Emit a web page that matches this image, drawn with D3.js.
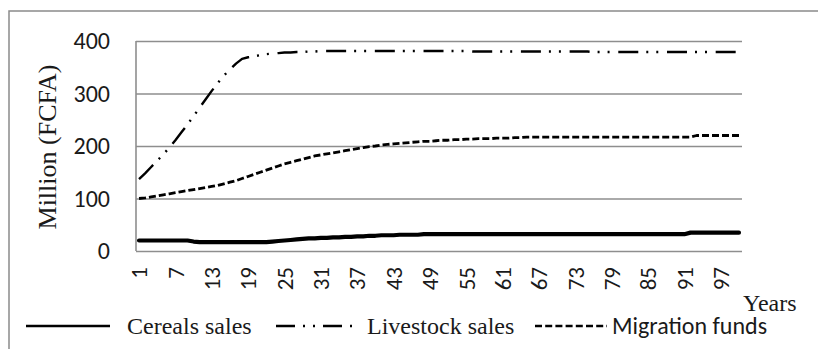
<!DOCTYPE html>
<html>
<head>
<meta charset="utf-8">
<script src="https://cdn.jsdelivr.net/npm/d3@7"></script>
<style>
  html, body { margin: 0; padding: 0; background: #fff; }
  svg { display: block; }
</style>
</head>
<body>
<svg id="chart" width="818" height="349"></svg>
<script>
// Simulation horizon (years) and the three revenue series, in million FCFA
const years = d3.range(1, 101);
const xTickLabels = [1, 7, 13, 19, 25, 31, 37, 43, 49, 55, 61, 67, 73, 79, 85, 91, 97];
const yTickLabels = [0, 100, 200, 300, 400];

const cerealsSales = [
  20, 20, 20, 20, 20, 20, 20, 20, 20, 18,
  17, 17, 17, 17, 17, 17, 17, 17, 17, 17,
  17, 17, 18, 19, 20, 21, 22, 23, 24, 24,
  25, 25, 26, 26, 27, 27, 28, 28, 29, 29,
  30, 30, 30, 31, 31, 31, 31, 32, 32, 32,
  32, 32, 32, 32, 32, 32, 32, 32, 32, 32,
  32, 32, 32, 32, 32, 32, 32, 32, 32, 32,
  32, 32, 32, 32, 32, 32, 32, 32, 32, 32,
  32, 32, 32, 32, 32, 32, 32, 32, 32, 32,
  32, 35, 35, 35, 35, 35, 35, 35, 35, 35
];

const livestockSales = [
  137, 148, 160, 172, 184, 197, 211, 226, 241, 257,
  273, 289, 305, 320, 334, 346, 357, 366, 369, 371,
  373, 375, 376, 377, 378, 378, 379, 379, 380, 380,
  381, 381, 381, 381, 381, 381, 381, 381, 381, 381,
  381, 381, 381, 381, 381, 381, 381, 381, 381, 381,
  381, 381, 381, 381, 381, 380, 380, 380, 380, 380,
  380, 380, 380, 380, 380, 380, 380, 380, 380, 380,
  380, 380, 380, 380, 380, 379, 379, 379, 379, 379,
  379, 379, 379, 379, 379, 379, 379, 379, 379, 379,
  379, 379, 379, 379, 379, 379, 379, 379, 379, 379
];

const migrationFunds = [
  100, 101, 103, 105, 107, 109, 111, 113, 115, 117,
  119, 121, 123, 125, 128, 131, 134, 138, 142, 146,
  150, 154, 158, 162, 166, 169, 172, 175, 178, 181,
  183, 185, 187, 189, 191, 193, 195, 197, 199, 200,
  202, 203, 204, 205, 206, 207, 208, 209, 209, 210,
  211, 211, 212, 212, 213, 213, 214, 214, 214, 215,
  215, 215, 216, 216, 217, 217, 217, 217, 217, 217,
  217, 217, 217, 217, 217, 217, 217, 217, 217, 217,
  217, 217, 217, 217, 217, 217, 217, 217, 217, 217,
  217, 217, 220, 220, 220, 220, 220, 220, 220, 220
];

const seriesNames = ["Cereals sales", "Livestock sales", "Migration funds"];

const svg = d3.select("#chart");
const plot = { left: 136, right: 742, top: 41, bottom: 251 };
const gridColor = "#8e8e8e";
const sansFont = "Carlito, Calibri, Lato, sans-serif";
const serifFont = "'Liberation Serif', 'Times New Roman', serif";

// Outer chart frame
svg.append("rect")
  .attr("x", 9).attr("y", 11)
  .attr("width", 840).attr("height", 360)
  .attr("fill", "none")
  .attr("stroke", "#8a8a8a")
  .attr("stroke-width", 1.5);

const x = d3.scaleBand().domain(years).range([plot.left, plot.right]).padding(0);
const cx = d => x(d) + x.bandwidth() / 2;
const y = d3.scaleLinear().domain([0, 400]).range([plot.bottom, plot.top]);

// Horizontal gridlines
const grid = svg.append("g")
  .attr("transform", `translate(${plot.left},0)`)
  .call(d3.axisLeft(y).tickValues(yTickLabels).tickSize(-(plot.right - plot.left)).tickFormat(""));
grid.select(".domain").remove();
grid.selectAll(".tick line").attr("stroke", gridColor).attr("stroke-width", 1.6);

// Left axis line
svg.append("line")
  .attr("x1", plot.left).attr("x2", plot.left)
  .attr("y1", y(400)).attr("y2", y(0))
  .attr("stroke", gridColor).attr("stroke-width", 1.6);

// Y tick labels
const yAxis = svg.append("g")
  .attr("transform", `translate(${plot.left},0)`)
  .call(d3.axisLeft(y).tickValues(yTickLabels).tickSize(0).tickPadding(26));
yAxis.select(".domain").remove();
yAxis.selectAll("text")
  .attr("font-family", sansFont).attr("font-size", 24).attr("fill", "#1a1a1a");

// X tick labels, rotated
const xAxis = svg.append("g")
  .attr("transform", `translate(0,${plot.bottom})`)
  .call(d3.axisBottom(x).tickValues(xTickLabels).tickSize(0));
xAxis.select(".domain").remove();
xAxis.selectAll("text")
  .attr("font-family", sansFont).attr("font-size", 23).attr("fill", "#1a1a1a")
  .attr("transform", "rotate(-90)")
  .attr("text-anchor", "end")
  .attr("x", -16).attr("y", 0).attr("dy", "0.36em");

// Axis titles
svg.append("text")
  .attr("transform", "translate(56,147) rotate(-90)")
  .attr("text-anchor", "middle")
  .attr("font-family", serifFont).attr("font-size", 26).attr("fill", "#1a1a1a")
  .text("Million (FCFA)");

svg.append("text")
  .attr("x", 743).attr("y", 311)
  .attr("font-family", serifFont).attr("font-size", 24).attr("fill", "#1a1a1a")
  .text("Years");

// Series lines
const line = values => d3.line().x((d, i) => cx(years[i])).y(d => y(d))(values);

const styles = [
  { values: cerealsSales, width: 4.2, dash: null, cap: "round" },
  { values: livestockSales, width: 2.4, dash: "20,8,2,8,2,8.7", cap: "butt" },
  { values: migrationFunds, width: 2.8, dash: "7,3", cap: "butt" }
];

svg.append("g").selectAll("path")
  .data(styles)
  .join("path")
  .attr("d", s => line(s.values))
  .attr("fill", "none")
  .attr("stroke", "#000")
  .attr("stroke-width", s => s.width)
  .attr("stroke-dasharray", s => s.dash)
  .attr("stroke-linecap", s => s.cap)
  .attr("stroke-linejoin", "round");

// Legend
const legendItems = [
  { name: seriesNames[0], x1: 26, x2: 110, tx: 127, width: 2.6, dash: null, font: serifFont, size: 24 },
  { name: seriesNames[1], x1: 276, x2: 356, tx: 367, width: 2.4, dash: "19,8,2,8,2,8", font: serifFont, size: 24 },
  { name: seriesNames[2], x1: 535, x2: 607, tx: 612, width: 2.6, dash: "7,3.2", font: sansFont, size: 24 }
];

const legend = svg.append("g").selectAll("g")
  .data(legendItems)
  .join("g");

legend.append("line")
  .attr("x1", d => d.x1).attr("x2", d => d.x2)
  .attr("y1", 326).attr("y2", 326)
  .attr("stroke", "#000")
  .attr("stroke-width", d => d.width)
  .attr("stroke-dasharray", d => d.dash);

legend.append("text")
  .attr("x", d => d.tx).attr("y", 334)
  .attr("font-family", d => d.font).attr("font-size", d => d.size)
  .attr("fill", "#1a1a1a")
  .text(d => d.name);
</script>
</body>
</html>
